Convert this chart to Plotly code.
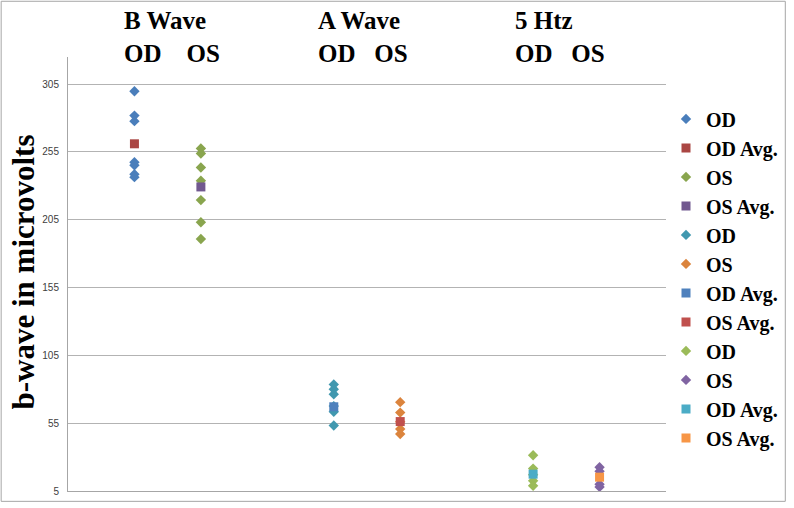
import plotly.graph_objects as go

# ---- data ----
slot_labels = ["B OD", "B OS", "A OD", "A OS", "5Htz OD", "5Htz OS"]
slot_x = [1, 2, 4, 5, 7, 8]

b_od = [299.8, 281.8, 277.7, 247.4, 245.2, 238.6, 236.4]
b_od_avg = [261.0]
b_os = [257.5, 253.9, 243.5, 233.8, 219.5, 203.2, 190.8]
b_os_avg = [229.2]
a_od = [83.6, 80.0, 76.3, 67.6, 63.4, 53.3]
a_os = [70.5, 62.8, 56.0, 50.7, 47.0]
a_od_avg = [67.1]
a_os_avg = [56.2]
h_od = [31.4, 21.5, 17.0, 12.5, 8.9]
h_os = [22.5, 19.5, 10.0, 8.0]
h_od_avg = [17.4]
h_os_avg = [15.2]

y_ticks = [5, 55, 105, 155, 205, 255, 305]

series = [
    ("OD", b_od, 0, "diamond", "#4A7EBB"),
    ("OD Avg.", b_od_avg, 0, "square", "#AA4643"),
    ("OS", b_os, 1, "diamond", "#89A54E"),
    ("OS Avg.", b_os_avg, 1, "square", "#71588F"),
    ("OD", a_od, 2, "diamond", "#4198AF"),
    ("OS", a_os, 3, "diamond", "#DB843D"),
    ("OD Avg.", a_od_avg, 2, "square", "#4F81BD"),
    ("OS Avg.", a_os_avg, 3, "square", "#C0504D"),
    ("OD", h_od, 4, "diamond", "#9BBB59"),
    ("OS", h_os, 5, "diamond", "#8064A2"),
    ("OD Avg.", h_od_avg, 4, "square", "#4BACC6"),
    ("OS Avg.", h_os_avg, 5, "square", "#F79646"),
]

W, H = 794, 508
ML, MR, MT, MB = 68, 122, 57, 11
PW, PH = W - ML - MR, H - MT - MB

fig = go.Figure()
for name, vals, si, sym, col in series:
    fig.add_trace(go.Scatter(
        x=[slot_x[si]] * len(vals), y=vals, mode="markers", name=name,
        marker=dict(symbol=sym, size=8 if sym == "diamond" else 9, color=col,
                    line=dict(width=0)),
    ))

serif = "Liberation Serif, Times New Roman, serif"

def px_x(p):
    return (p - ML) / PW

def px_y(p):
    return (H - MB - p) / PH

titles = [
    ("B Wave<br>OD\u00a0\u00a0\u00a0\u00a0OS", 123),
    ("A Wave<br>OD\u00a0\u00a0\u00a0OS", 318),
    ("5 Htz<br>OD\u00a0\u00a0\u00a0OS", 517),
]
annotations = []
for txt, left in titles:
    annotations.append(dict(
        text=txt, xref="paper", yref="paper", x=px_x(left), y=px_y(4),
        xanchor="left", yanchor="top", align="left", showarrow=False,
        font=dict(family=serif, size=25, color="#000000", weight="bold"),
    ))
annotations.append(dict(
    text="b-wave in microvolts", xref="paper", yref="paper",
    x=px_x(23), y=px_y(275), xanchor="center", yanchor="middle",
    textangle=-90, showarrow=False,
    font=dict(family=serif, size=31, color="#000000", weight="bold"),
))

fig.update_layout(
    autosize=True,
    margin=dict(l=ML, r=MR, t=MT, b=MB),
    paper_bgcolor="white", plot_bgcolor="white",
    showlegend=True,
    legend=dict(
        x=px_x(672), y=px_y(100), xanchor="left", yanchor="top",
        font=dict(family=serif, size=20, color="#000000", weight="bold"),
        bgcolor="rgba(0,0,0,0)", tracegroupgap=0,
    ),
    xaxis=dict(range=[0, 9], showgrid=False, zeroline=False, showticklabels=False,
               ticks="", showline=True, linecolor="#A6A6A6", linewidth=1,
               fixedrange=True),
    yaxis=dict(range=[5, 325], tickvals=y_ticks, ticktext=[str(v) for v in y_ticks],
               showgrid=True, gridcolor="#B3B3B3", gridwidth=1, zeroline=False,
               showline=True, linecolor="#A6A6A6", linewidth=1, ticks="",
               tickfont=dict(family="Liberation Sans, Arial, sans-serif", size=10,
                             color="#404040"),
               ticklabelstandoff=6),
    annotations=annotations,
    shapes=[dict(type="rect", xref="paper", yref="paper",
                 x0=px_x(0.5), x1=px_x(W - 1.5), y0=px_y(H - 0.5), y1=px_y(0.5),
                 line=dict(color="#A6A6A6", width=1), fillcolor="rgba(0,0,0,0)",
                 layer="below")],
)

fig.write_html(
    "out.html",
    config={"displayModeBar": False},
    default_width=f"{W}px;position:absolute;left:0;top:0",
    default_height=f"{H}px",
    post_script="document.body.style.margin='0';document.body.style.padding='0';"
                "document.body.style.overflow='hidden';",
)
